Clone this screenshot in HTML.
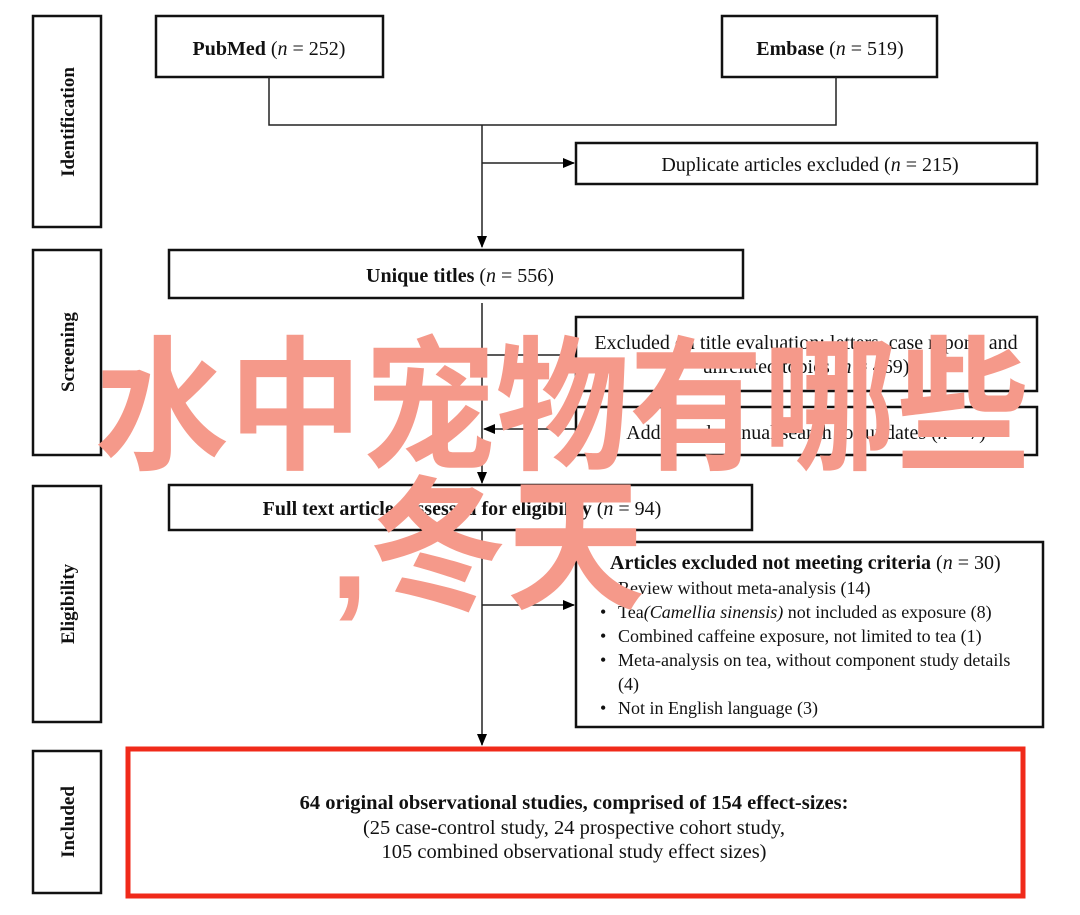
<!DOCTYPE html>
<html><head><meta charset="utf-8"><style>
html,body{margin:0;padding:0;background:#fff;}
svg{display:block;}
text{font-family:"Liberation Serif",serif;fill:#111;}
</style></head><body>
<svg width="1080" height="915" viewBox="0 0 1080 915" xmlns="http://www.w3.org/2000/svg">
<defs><marker id="a" markerWidth="12" markerHeight="10" refX="11" refY="5" orient="auto" markerUnits="userSpaceOnUse"><path d="M0,0 L12,5 L0,10 Z" fill="#000"/></marker></defs>
<g fill="none" stroke="#111" stroke-width="2.5">
<rect x="33" y="16" width="68" height="211"/>
<rect x="33" y="250" width="68" height="205"/>
<rect x="33" y="486" width="68" height="236"/>
<rect x="33" y="751" width="68" height="142"/>
<rect x="156" y="16" width="227" height="61"/>
<rect x="722" y="16" width="215" height="61"/>
<rect x="576" y="143" width="461" height="41"/>
<rect x="169" y="250" width="574" height="48"/>
<rect x="576" y="317" width="461" height="74"/>
<rect x="576" y="407" width="461" height="48"/>
<rect x="169" y="485" width="583" height="45"/>
<rect x="576" y="542" width="467" height="185"/>
</g>
<g stroke="#222" stroke-width="1.5" fill="none">
<polyline points="269,77 269,125 836,125 836,77"/>
<line x1="482" y1="125" x2="482" y2="247" marker-end="url(#a)"/>
<line x1="482" y1="163" x2="574" y2="163" marker-end="url(#a)"/>
<line x1="482" y1="303" x2="482" y2="483" marker-end="url(#a)"/>
<line x1="482" y1="355" x2="574" y2="355" marker-end="url(#a)"/>
<line x1="576" y1="429" x2="484" y2="429" marker-end="url(#a)"/>
<line x1="482" y1="530" x2="482" y2="745" marker-end="url(#a)"/>
<line x1="482" y1="605" x2="574" y2="605" marker-end="url(#a)"/>
</g>
<rect x="128" y="749" width="895" height="147" fill="none" stroke="#f02a1a" stroke-width="5"/>
<g font-weight="bold" font-size="19">
<text transform="translate(74,122) rotate(-90)" text-anchor="middle">Identification</text>
<text transform="translate(74,352) rotate(-90)" text-anchor="middle">Screening</text>
<text transform="translate(74,604) rotate(-90)" text-anchor="middle">Eligibility</text>
<text transform="translate(74,822) rotate(-90)" text-anchor="middle">Included</text>
</g>
<g font-size="20">
<text x="269" y="55" text-anchor="middle"><tspan font-weight="bold">PubMed</tspan> (<tspan font-style="italic">n</tspan> = 252)</text>
<text x="830" y="55" text-anchor="middle"><tspan font-weight="bold">Embase</tspan> (<tspan font-style="italic">n</tspan> = 519)</text>
<text x="810" y="171" text-anchor="middle">Duplicate articles excluded (<tspan font-style="italic">n</tspan> = 215)</text>
<text x="460" y="282" text-anchor="middle"><tspan font-weight="bold">Unique titles</tspan> (<tspan font-style="italic">n</tspan> = 556)</text>
<text x="806" y="349" text-anchor="middle">Excluded on title evaluation: letters, case reports and</text>
<text x="806" y="373" text-anchor="middle">unrelated topics (<tspan font-style="italic">n</tspan> = 469)</text>
<text x="806" y="439" text-anchor="middle">Additional manual search for updates (<tspan font-style="italic">n</tspan> = 7)</text>
<text x="462" y="515" text-anchor="middle"><tspan font-weight="bold">Full text articles assessed for eligibility</tspan> (<tspan font-style="italic">n</tspan> = 94)</text>
<text x="610" y="569"><tspan font-weight="bold">Articles excluded not meeting criteria</tspan> (<tspan font-style="italic">n</tspan> = 30)</text>
</g>
<g font-size="18">
<text x="600" y="594">•</text><text x="618" y="594">Review without meta-analysis (14)</text>
<text x="600" y="618">•</text><text x="618" y="618">Tea<tspan font-style="italic">(Camellia sinensis)</tspan> not included as exposure (8)</text>
<text x="600" y="642">•</text><text x="618" y="642">Combined caffeine exposure, not limited to tea (1)</text>
<text x="600" y="666">•</text><text x="618" y="666">Meta-analysis on tea, without component study details</text>
<text x="618" y="690">(4)</text>
<text x="600" y="714">•</text><text x="618" y="714">Not in English language (3)</text>
</g>
<g font-size="20.5" text-anchor="middle">
<text x="574" y="809" font-weight="bold">64 original observational studies, comprised of 154 effect-sizes:</text>
<text x="574" y="834">(25 case-control study, 24 prospective cohort study,</text>
<text x="574" y="858">105 combined observational study effect sizes)</text>
</g>
<text x="95" y="458" textLength="935" lengthAdjust="spacingAndGlyphs" font-size="145" font-weight="bold" style="fill:#f5998a;font-family:'Noto Sans CJK SC',sans-serif">水中宠物有哪些</text>
<text x="330" y="598" textLength="315" lengthAdjust="spacingAndGlyphs" font-size="145" font-weight="bold" style="fill:#f5998a;font-family:'Liberation Sans','Noto Sans CJK SC',sans-serif">,冬天</text>
</svg>
</body></html>
